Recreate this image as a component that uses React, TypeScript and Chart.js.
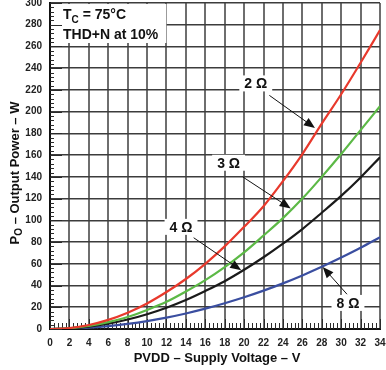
import React, { useEffect, useRef } from "react";
import { Chart, registerables } from "chart.js";

Chart.register(...registerables);

const FONT = "Arial, 'Liberation Sans', Helvetica, sans-serif";

// Supply voltage (V)
const voltages = [0, 2, 4, 6, 8, 10, 12, 14, 16, 18, 20, 22, 24, 26, 28, 30, 32, 34];
// Output power (W) per load
const power2ohm = [0, 0.9, 3.7, 8.4, 15, 23.5, 34, 46, 60, 76, 94, 113, 136, 161, 189, 216, 245, 275];
const power3ohm = [0, 0.7, 2.8, 6.3, 11, 17.5, 25, 34.5, 45, 57, 70.5, 86, 102, 120, 140, 161, 183, 205];
const power4ohm = [0, 0.5, 2.2, 4.9, 8.7, 13.6, 19.6, 26.7, 35, 44, 54.5, 66, 78.5, 92, 107, 122.5, 139.5, 158];
const power8ohm = [0, 0.3, 1.2, 2.6, 4.7, 7.3, 10.5, 14.3, 18.7, 23.7, 29.2, 35.3, 42, 49.3, 57.2, 65.7, 74.7, 84.4];

const seriesLabels = ["2 Ω", "3 Ω", "4 Ω", "8 Ω"];
const seriesColors = ["#e8392c", "#5cb946", "#1a1a1a", "#3a4ea0"];

// Callout labels and arrows, in data coordinates (V, W)
const calloutText = [[21.2, 226], [18.4, 153], [13.5, 94], [30.7, 24]];
const arrowStart = [[22.6, 215], [19.85, 140], [14.8, 84], [30.6, 32]];
const arrowEnd = [[27.3, 185], [24.8, 111], [19.7, 54], [28.1, 57]];

const xMin = 0, xMax = 34, xStep = 2;
const yMin = 0, yMax = 300, yStep = 20;

const annotatePlugin = {
  id: "annotate",
  beforeDatasetsDraw(chart: any) {
    const { ctx, chartArea: ca, scales } = chart;
    const xs = scales.x, ys = scales.y;
    ctx.save();
    // white box behind the conditions text
    ctx.font = `bold 14px ${FONT}`;
    const w = ctx.measureText("THD+N at 10%").width;
    ctx.fillStyle = "#ffffff";
    ctx.fillRect(ca.left + 1, ca.top + 1, w + 20, 39);
    // minor / major inner ticks
    ctx.strokeStyle = "#2a2a2a";
    ctx.lineWidth = 1;
    ctx.beginPath();
    const nx = Math.round((xMax - xMin) / 0.4);
    for (let i = 0; i <= nx; i++) {
      const v = xMin + i * 0.4;
      const px = Math.round(xs.getPixelForValue(v)) + 0.5;
      const len = i % 5 === 0 ? 10 : 6;
      ctx.moveTo(px, ca.bottom);
      ctx.lineTo(px, ca.bottom - len);
    }
    const ny = Math.round((yMax - yMin) / 4);
    for (let i = 0; i <= ny; i++) {
      const v = yMin + i * 4;
      const py = Math.round(ys.getPixelForValue(v)) + 0.5;
      const len = i % 5 === 0 ? 12 : 4;
      ctx.moveTo(ca.left, py);
      ctx.lineTo(ca.left + len, py);
    }
    ctx.stroke();
    ctx.restore();
  },
  afterDatasetsDraw(chart: any) {
    const { ctx, chartArea: ca, scales } = chart;
    const xs = scales.x, ys = scales.y;
    ctx.save();
    ctx.fillStyle = "#111";
    ctx.textBaseline = "alphabetic";
    ctx.textAlign = "left";
    // conditions text
    let tx = ca.left + 13;
    ctx.font = `bold 14px ${FONT}`;
    ctx.fillText("T", tx, ca.top + 16);
    tx += ctx.measureText("T").width;
    ctx.font = `bold 10px ${FONT}`;
    ctx.fillText("C", tx, ca.top + 20);
    tx += ctx.measureText("C").width;
    ctx.font = `bold 14px ${FONT}`;
    ctx.fillText(" = 75°C", tx, ca.top + 16);
    ctx.fillText("THD+N at 10%", ca.left + 13, ca.top + 36);

    // callouts
    for (let i = 0; i < seriesLabels.length; i++) {
      const lx = xs.getPixelForValue(calloutText[i][0]);
      const ly = ys.getPixelForValue(calloutText[i][1]);
      ctx.font = `bold 14px ${FONT}`;
      const tw = ctx.measureText(seriesLabels[i]).width;
      ctx.fillStyle = "#ffffff";
      ctx.fillRect(lx - tw / 2 - 5, ly - 8, tw + 10, 16);
      ctx.fillStyle = "#111";
      ctx.textAlign = "center";
      ctx.textBaseline = "middle";
      ctx.fillText(seriesLabels[i], lx, ly + 1);

      const ax = xs.getPixelForValue(arrowStart[i][0]);
      const ay = ys.getPixelForValue(arrowStart[i][1]);
      const bx = xs.getPixelForValue(arrowEnd[i][0]);
      const by = ys.getPixelForValue(arrowEnd[i][1]);
      const ang = Math.atan2(by - ay, bx - ax);
      const hl = 11, hw = 4.5;
      ctx.strokeStyle = "#111";
      ctx.lineWidth = 1;
      ctx.beginPath();
      ctx.moveTo(ax, ay);
      ctx.lineTo(bx - Math.cos(ang) * hl * 0.8, by - Math.sin(ang) * hl * 0.8);
      ctx.stroke();
      ctx.beginPath();
      ctx.moveTo(bx, by);
      ctx.lineTo(bx - Math.cos(ang) * hl - Math.sin(ang) * hw, by - Math.sin(ang) * hl + Math.cos(ang) * hw);
      ctx.lineTo(bx - Math.cos(ang) * hl + Math.sin(ang) * hw, by - Math.sin(ang) * hl - Math.cos(ang) * hw);
      ctx.closePath();
      ctx.fillStyle = "#111";
      ctx.fill();
    }

    // axis titles
    ctx.fillStyle = "#111";
    ctx.textBaseline = "middle";
    ctx.textAlign = "center";
    ctx.font = `bold 13px ${FONT}`;
    ctx.fillText("PVDD – Supply Voltage – V", (ca.left + ca.right) / 2 + 2, 358);

    ctx.save();
    ctx.translate(14, 173);
    ctx.rotate(-Math.PI / 2);
    ctx.textAlign = "left";
    ctx.textBaseline = "alphabetic";
    ctx.font = `bold 13px ${FONT}`;
    const p1 = "P";
    const rest = " – Output Power – W";
    const w1 = ctx.measureText(p1).width;
    const w3 = ctx.measureText(rest).width;
    ctx.font = `bold 10px ${FONT}`;
    const w2 = ctx.measureText("O").width;
    const total = w1 + w2 + w3;
    let sx = -total / 2;
    ctx.font = `bold 13px ${FONT}`;
    ctx.fillText(p1, sx, 5);
    sx += w1;
    ctx.font = `bold 10px ${FONT}`;
    ctx.fillText("O", sx, 8);
    sx += w2;
    ctx.font = `bold 13px ${FONT}`;
    ctx.fillText(rest, sx, 5);
    ctx.restore();

    ctx.restore();
  },
};

export default function App() {
  const ref = useRef<HTMLCanvasElement | null>(null);
  useEffect(() => {
    document.body.style.margin = "0";
    const canvas = ref.current;
    if (!canvas) return;
    const mk = (vals: number[]) => voltages.map((v, i) => ({ x: v, y: vals[i] }));
    const all = [power2ohm, power3ohm, power4ohm, power8ohm];
    const chart = new Chart(canvas, {
      type: "line",
      data: {
        datasets: all.map((vals, i) => ({
          label: seriesLabels[i],
          data: mk(vals),
          borderColor: seriesColors[i],
          borderWidth: 2.2,
          pointRadius: 0,
          fill: false,
          tension: 0.4,
          cubicInterpolationMode: "monotone" as const,
        })),
      },
      options: {
        responsive: false,
        animation: false,
        devicePixelRatio: 1,
        layout: { padding: { top: 3, right: 6, left: 0, bottom: 0 } },
        plugins: { legend: { display: false }, tooltip: { enabled: false }, title: { display: false } },
        scales: {
          x: {
            type: "linear",
            min: xMin,
            max: xMax,
            ticks: {
              stepSize: xStep,
              padding: 8,
              color: "#222",
              font: { family: FONT, size: 10, weight: "bold" },
              maxRotation: 0,
              autoSkip: false,
            },
            grid: { color: "#6e6e6e", lineWidth: 2, drawTicks: false },
            border: { color: "#111", width: 2 },
            afterFit: (s: any) => {
              s.height = 41;
              s.paddingLeft = 0;
              s.paddingRight = 0;
            },
          },
          y: {
            type: "linear",
            min: yMin,
            max: yMax,
            ticks: {
              stepSize: yStep,
              padding: 8,
              color: "#222",
              font: { family: FONT, size: 10, weight: "bold" },
              autoSkip: false,
            },
            grid: { color: "#3c3c3c", lineWidth: 1.6, drawTicks: false },
            border: { color: "#111", width: 2 },
            afterFit: (s: any) => {
              s.width = 50;
              s.paddingTop = 0;
              s.paddingBottom = 0;
            },
          },
        },
      },
      plugins: [annotatePlugin],
    } as any);
    return () => chart.destroy();
  }, []);
  return <canvas ref={ref} width={386} height={370} style={{ display: "block" }} />;
}
